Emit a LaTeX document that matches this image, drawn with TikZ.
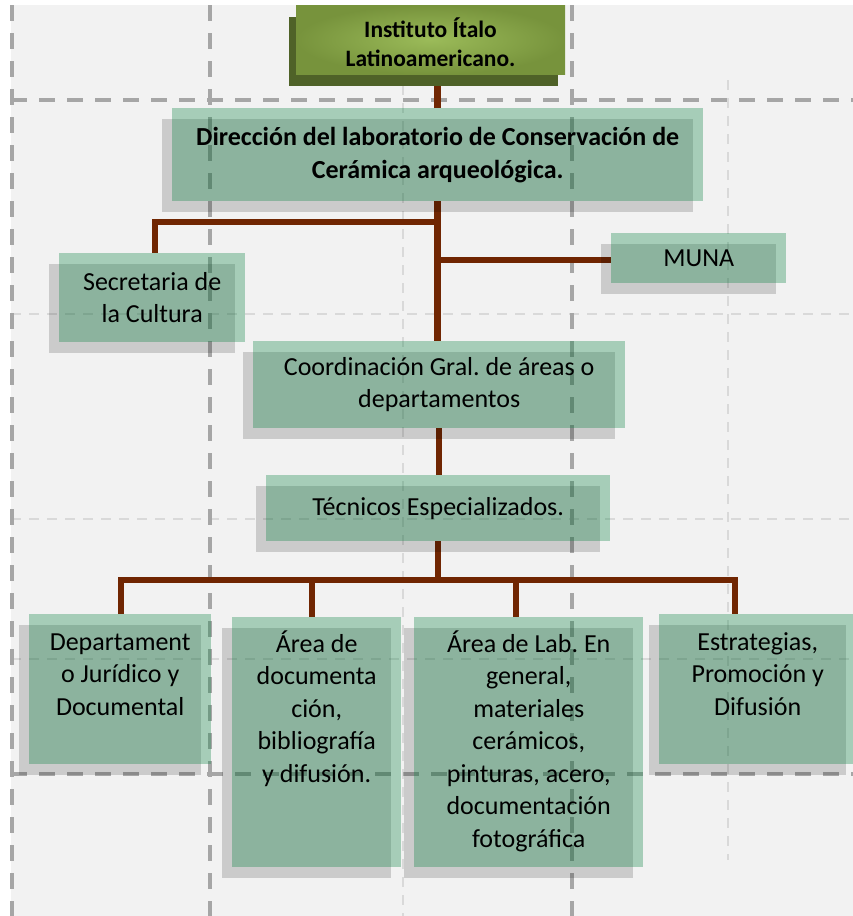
\documentclass[tikz,border=0pt]{standalone}
\usepackage{fontspec}
\setmainfont{Carlito}
\usetikzlibrary{shadows}
\frenchspacing

\definecolor{pagegray}{RGB}{242,242,242}
\definecolor{gridgray}{RGB}{166,166,166}
\definecolor{gridlight}{RGB}{217,217,217}
\definecolor{boxgreen}{RGB}{20,134,73}
\definecolor{linkbrown}{RGB}{112,38,2}
\definecolor{olivedark}{RGB}{79,98,40}
\definecolor{olivemid}{RGB}{119,147,60}
\definecolor{olivelight}{RGB}{155,187,89}

\pgfdeclarelayer{grid}
\pgfdeclarelayer{links}
\pgfsetlayers{grid,links,main}

\tikzset{
	gridmajor/.style = {draw = gridgray, line width = 4pt, dash pattern = on 16pt off 12pt},
	gridminor/.style = {draw = gridlight, line width = 2.5pt, dash pattern = on 10pt off 8pt},
	link/.style = {draw = linkbrown, line width = 6.5pt, line join = miter},
	area/.style = {fill = boxgreen, fill opacity = 0.34, text opacity = 1, inner sep = 0pt,
		anchor = north west, align = flush center, font = \fontsize{26}{32.5}\selectfont,
		drop shadow = {shadow xshift = -10pt, shadow yshift = -11pt, fill = black, opacity = 0.16}},
	tall/.style = {area, text width = #1},
	topbox/.style = {minimum width = 269pt, minimum height = 69pt, inner sep = 0pt, anchor = north west,
		inner color = olivelight, outer color = olivemid,
		drop shadow = {shadow xshift = -7pt, shadow yshift = -12pt, fill = olivedark, opacity = 1}},
	toptext/.style = {anchor = base, text width = 260pt, align = flush center, inner sep = 0pt,
		font = \bfseries\fontsize{23.5}{29.5}\selectfont}
}

\begin{document}
\begin{tikzpicture}[x = 1pt, y = -1pt]

	\useasboundingbox (0, 0) rectangle (853, 916);

	% Page background and dashed guide lines

	\begin{pgfonlayer}{grid}

		\fill [pagegray] (11, 5) rectangle (853, 916);

		\begin{scope}[gridminor]
			\draw (403, 85) -- (403, 916);
			\draw (728, 80) -- (728, 860);
			\foreach \y in {314, 519, 659}
				\draw (11, \y) -- (853, \y);
		\end{scope}

		\begin{scope}[gridmajor]
			\foreach \x in {12, 210, 572}
				\draw (\x, 5) -- (\x, 916);
			\foreach \y in {100, 774}
				\draw (11, \y) -- (853, \y);
		\end{scope}

	\end{pgfonlayer}

	% Head of the chart

	\node [topbox] (inst) at (296, 5) {};
	\begin{scope}
		\clip (inst.north west) rectangle (565, 66);
		\node [toptext] (insttext) at (430.5, 37) {Instituto Ítalo\\Latinoamericano.};
	\end{scope}

	\node [area, minimum width = 531pt, minimum height = 93pt, font = \bfseries\fontsize{26}{33}\selectfont]
		(dir) at (172, 108) {Dirección del laboratorio de Conservación de\\Cerámica arqueológica.};

	% Second level

	\node [area, minimum width = 186pt, minimum height = 89pt] (sec) at (59, 253) {Secretaria de\\la Cultura};
	\node [area, minimum width = 175pt, minimum height = 50pt] (muna) at (611, 233) {MUNA};
	\node [area, minimum width = 372pt, minimum height = 87pt] (coord) at (253, 341) {Coordinación Gral. de áreas o\\departamentos};
	\node [area, minimum width = 344pt, minimum height = 66pt, yshift = 2pt] (tec) at (266, 477) {Técnicos Especializados.};

	% Areas

	\node [tall = 182pt, text height = 36pt, text depth = 114pt] (dep) at (29, 614)
		{Departament\\o Jurídico y\\Documental};
	\node [tall = 169pt, text height = 35pt, text depth = 215pt] (doc) at (232, 617)
		{Área de\\documenta\\ción,\\bibliografía\\y difusión.};
	\node [tall = 229pt, text height = 35pt, text depth = 215pt] (lab) at (414, 617)
		{Área de Lab. En\\general,\\materiales\\cerámicos,\\pinturas, acero,\\documentación\\fotográfica};
	\node [tall = 197pt, text height = 36pt, text depth = 114pt] (est) at (659, 614)
		{Estrategias,\\Promoción y\\Difusión};

	% Connecting lines

	\coordinate (secdrop) at (155, 222);
	\coordinate (munajoin) at (437.5, 260);
	\coordinate (drop1) at (121, 580);
	\coordinate (drop2) at (312, 580);
	\coordinate (drop3) at (516, 580);
	\coordinate (drop4) at (735, 580);

	\begin{pgfonlayer}{links}
		\begin{scope}[link]

			\draw (dir.north) -- (dir.north |- inst.south);
			\draw (dir.south) -- (dir.south |- coord.north);
			\draw (dir.south |- secdrop) -- (secdrop) -- (secdrop |- sec.north);
			\draw (munajoin) -- (munajoin -| muna.west);
			\draw (coord.south) -- (coord.south |- tec.north);

			\draw (tec.south) -- (tec.south |- drop1);
			\draw (drop1 |- dep.north) -- (drop1) -- (drop4) -- (drop4 |- est.north);
			\draw (drop2) -- (drop2 |- doc.north);
			\draw (drop3) -- (drop3 |- lab.north);

		\end{scope}
	\end{pgfonlayer}

\end{tikzpicture}
\end{document}
